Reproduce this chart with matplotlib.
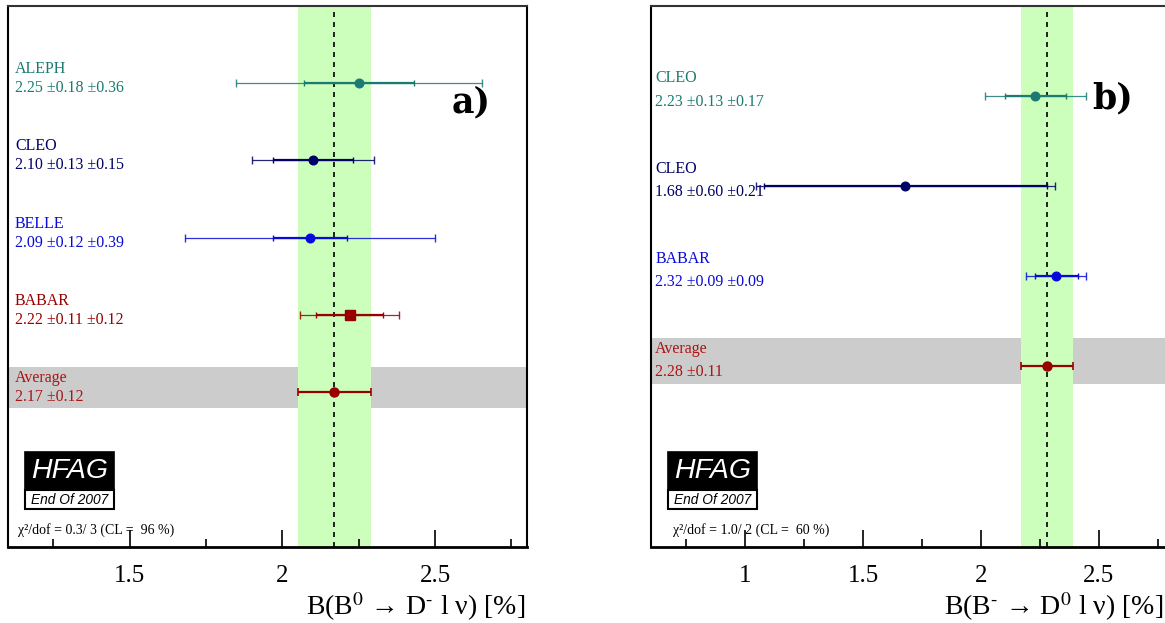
import numpy as np
import matplotlib
matplotlib.use("Agg")
import matplotlib.pyplot as plt
from matplotlib.patches import Rectangle

plt.rcParams['font.family'] = ['Liberation Serif', 'DejaVu Serif']
plt.rcParams['mathtext.fontset'] = 'stix'

# ---------------- data ----------------
a_labels = ["ALEPH", "CLEO", "BELLE", "BABAR"]
a_values = [2.25, 2.10, 2.09, 2.22]
a_stat = [0.18, 0.13, 0.12, 0.11]
a_syst = [0.36, 0.15, 0.39, 0.12]
a_markers = ["o", "o", "o", "s"]
a_colors = ["#1b7a72", "#000066", "#0a0ad8", "#990000"]
a_avg = 2.17
a_avg_err = 0.12
a_chi2 = "χ²/dof = 0.3/ 3 (CL =  96 %)"
a_xlim = (1.1, 2.8)
a_xlabel = r"B(B$^{0}$ → D$^{\text{-}}$ l ν) [%]"

b_labels = ["CLEO", "CLEO", "BABAR"]
b_values = [2.23, 1.68, 2.32]
b_stat = [0.13, 0.60, 0.09]
b_syst = [0.17, 0.21, 0.09]
b_markers = ["o", "o", "o"]
b_colors = ["#1b7a72", "#000066", "#0a0ad8"]
b_avg = 2.28
b_avg_err = 0.11
b_chi2 = "χ²/dof = 1.0/ 2 (CL =  60 %)"
b_xlim = (0.6, 2.8)
b_xlabel = r"B(B$^{\text{-}}$ → D$^{0}$ l ν) [%]"

avg_color = "#990000"
avg_text_color = "#aa1515"

W, H = 1165, 623
fig = plt.figure(figsize=(W / 100, H / 100), dpi=100)


def px_axes(x0, x1, ytop, ybot):
    return fig.add_axes([x0 / W, 1 - ybot / H, (x1 - x0) / W, (ybot - ytop) / H])


def draw_panel(ax, labels, values, stat, syst, markers, colors, avg, avg_err,
               chi2, xlim, tag, dy_name, dy_val, text_x, tag_x, tag_y, chi_x):
    n = len(labels)
    avg_y = 2
    ys = [avg_y + n - i for i in range(n)]
    ax.set_xlim(*xlim)
    ax.set_ylim(0, avg_y + n + 1)
    tr = ax.get_yaxis_transform()

    # grey band of the average row
    ax.axhspan(avg_y - 0.2, avg_y + 0.32, color="#cccccc", lw=0, zorder=0)
    # green average band + dashed central value
    ax.axvspan(avg - avg_err, avg + avg_err, color="#ccffbb", lw=0, zorder=1)
    ax.axvline(avg, color="black", lw=1.2, ls=(0, (3, 3)), zorder=2)

    for y, lab, v, s, sy, m, c in zip(ys, labels, values, stat, syst, markers, colors):
        tot = np.hypot(s, sy)
        ax.errorbar([v], [y], xerr=[tot], fmt="none", ecolor=c, elinewidth=0.9,
                    capsize=2.6, capthick=1.0, zorder=3, alpha=0.85)
        ax.errorbar([v], [y], xerr=[s], fmt="none", ecolor=c, elinewidth=1.6,
                    capsize=2.2, capthick=1.0, zorder=4)
        ax.plot([v], [y], marker=m, color=c, ms=6.5 if m == "s" else 6.2,
                ls="none", zorder=5)
        ax.text(text_x, y + dy_name, lab, color=c, fontsize=11.5, va="baseline",
                ha="left", transform=tr, zorder=6)
        ax.text(text_x, y + dy_val, f"{v:.2f} ±{s:.2f} ±{sy:.2f}", color=c,
                fontsize=11.5, va="baseline", ha="left", transform=tr, zorder=6)

    ax.errorbar([avg], [avg_y], xerr=[avg_err], fmt="none", ecolor=avg_color,
                elinewidth=1.6, capsize=2.6, capthick=1.2, zorder=4)
    ax.plot([avg], [avg_y], marker="o", color=avg_color, ms=6.5, ls="none", zorder=5)
    ax.text(text_x, avg_y + dy_name, "Average", color=avg_text_color, fontsize=11.5,
            va="baseline", ha="left", transform=tr, zorder=6)
    ax.text(text_x, avg_y + dy_val, f"{avg:.2f} ±{avg_err:.2f}", color=avg_text_color,
            fontsize=11.5, va="baseline", ha="left", transform=tr, zorder=6)

    # panel tag
    ax.text(tag_x, tag_y, tag, transform=ax.transAxes, fontsize=25,
            family="DejaVu Serif", fontweight="bold", ha="left", va="center", zorder=6)

    # HFAG logo
    bx0, bx1 = 0.0333, 0.2050
    ax.add_patch(Rectangle((bx0, 0.1049), bx1 - bx0, 0.0702, transform=ax.transAxes,
                           facecolor="black", edgecolor="black", lw=1.2, zorder=6))
    ax.add_patch(Rectangle((bx0, 0.0697), bx1 - bx0, 0.0352, transform=ax.transAxes,
                           facecolor="white", edgecolor="black", lw=1.5, zorder=6))
    ax.text((bx0 + bx1) / 2, 0.140, "HFAG", transform=ax.transAxes, color="white",
            fontsize=20.5, family="Liberation Sans", style="italic", ha="center",
            va="center", zorder=7)
    ax.text((bx0 + bx1) / 2, 0.0872, "End Of 2007", transform=ax.transAxes,
            color="black", fontsize=9.9, family="Liberation Sans", style="italic",
            ha="center", va="center", zorder=7)
    ax.text(chi_x, 0.031, chi2, transform=ax.transAxes, fontsize=10, ha="left",
            va="center", zorder=7)

    # axes style
    ax.set_yticks([])
    ax.set_xticks(np.arange(0.5, 3.01, 0.5))
    ax.set_xticks(np.arange(0.25, 3.01, 0.25), minor=True)
    ax.set_xlim(*xlim)
    ax.tick_params(axis="x", which="major", direction="in", length=12.5, width=1.2,
                   labelsize=18, pad=13, top=False)
    ax.tick_params(axis="x", which="minor", direction="in", length=6, width=1.2,
                   top=False)
    ax.xaxis.set_major_formatter(matplotlib.ticker.FuncFormatter(
        lambda v, p: f"{v:g}"))
    for s in ("left", "right", "top"):
        ax.spines[s].set_linewidth(1.5)
    ax.spines["top"].set_color("#333333")
    ax.spines["bottom"].set_linewidth(2.0)


ax_a = px_axes(7.7, 526.7, 6, 546.7)
draw_panel(ax_a, a_labels, a_values, a_stat, a_syst, a_markers, a_colors, a_avg,
           a_avg_err, a_chi2, a_xlim, "a)", 0.13, -0.115, 0.014, 0.856, 0.822, 0.020)

ax_b = px_axes(650.7, 1169.7, 6, 546.7)
draw_panel(ax_b, b_labels, b_values, b_stat, b_syst, b_markers, b_colors, b_avg,
           b_avg_err, b_chi2, b_xlim, "b)", 0.152, -0.111, 0.0085, 0.850, 0.829, 0.043)

fig.text(525 / W, 1 - 615 / H, a_xlabel, fontsize=20, ha="right", va="baseline")
fig.text(1163 / W, 1 - 615 / H, b_xlabel, fontsize=20, ha="right", va="baseline")

fig.savefig("out.png", dpi=100)
